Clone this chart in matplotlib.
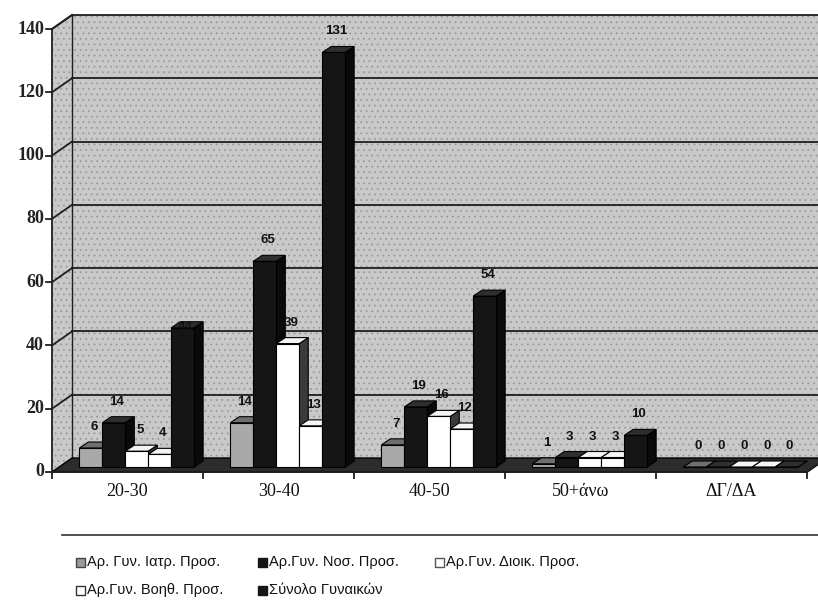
import matplotlib
matplotlib.use("Agg")
import matplotlib.pyplot as plt
from matplotlib.patches import Polygon, Rectangle
from matplotlib.transforms import IdentityTransform
import numpy as np

# ---- data -------------------------------------------------------------
categories = ["20-30", "30-40", "40-50", "50+άνω", "ΔΓ/ΔΑ"]
series_names = ["Αρ. Γυν. Ιατρ. Προσ.", "Αρ.Γυν. Νοσ. Προσ.",
                "Αρ.Γυν. Διοικ. Προσ.", "Αρ.Γυν. Βοηθ. Προσ.",
                "Σύνολο Γυναικών"]
iatr = [6, 14, 7, 1, 0]
nos = [14, 65, 19, 3, 0]
dioik = [5, 39, 16, 3, 0]
voith = [4, 13, 12, 3, 0]
synolo = [44, 131, 54, 10, 0]
y_ticks = [0, 20, 40, 60, 80, 100, 120, 140]

series = [iatr, nos, dioik, voith, synolo]

# ---- styling ----------------------------------------------------------
front_colors = ["#a9a9a9", "#151515", "#ffffff", "#ffffff", "#151515"]
top_colors = ["#6f6f6f", "#2e2e2e", "#f4f4f4", "#f4f4f4", "#2e2e2e"]
side_colors = ["#4e4e4e", "#0a0a0a", "#3a3a3a", "#3a3a3a", "#0a0a0a"]
wall_color = "#c9c9c9"
floor_color = "#2c2c2c"
line_color = "#1e1e1e"

W, H = 818, 608
fig = plt.figure(figsize=(W / 100, H / 100), dpi=100)
fig.patch.set_facecolor("white")
ax = fig.add_axes([59 / W, 141 / H, 755 / W, 443 / H])
ax.set_xlim(0, 5)
ax.set_ylim(0, 140)
ax.axis("off")

# pseudo-3D offsets (pixels) relative to the plane of the bar fronts
FRONT = np.array([-7.0, -5.0])
BACK = np.array([13.0, 9.0])
DEPTH = np.array([9.0, 6.0])


def pt(x, y, off=(0.0, 0.0)):
    return ax.transData.transform((x, y)) + np.asarray(off)


def poly(points, z, **kw):
    p = Polygon(np.array(points), closed=True, transform=IdentityTransform(),
                clip_on=False, zorder=z, **kw)
    ax.add_patch(p)
    return p


def seg(p0, p1, z, **kw):
    a = np.array([p0, p1])
    ax.add_line(plt.Line2D(a[:, 0], a[:, 1], transform=IdentityTransform(),
                           clip_on=False, zorder=z, **kw))


x0, x1 = 0, len(categories)
ymax = y_ticks[-1]

# walls with a speckled fill
plt.rcParams["hatch.linewidth"] = 0.6
back_wall = [pt(x0, 0, BACK), pt(x1, 0, BACK), pt(x1, ymax, BACK), pt(x0, ymax, BACK)]
side_wall = [pt(x0, 0, FRONT), pt(x0, 0, BACK), pt(x0, ymax, BACK), pt(x0, ymax, FRONT)]
for wall in (back_wall, side_wall):
    poly(wall, 1, facecolor=wall_color, edgecolor="none")
    poly(wall, 1.1, facecolor="none", edgecolor="#9a9a9a", hatch="...", linewidth=0)

# gridlines on back and side walls
for v in y_ticks[1:]:
    seg(pt(x0, v, BACK), pt(x1, v, BACK), 2, color=line_color, lw=1.3)
    seg(pt(x0, v, FRONT), pt(x0, v, BACK), 2, color=line_color, lw=1.3)
seg(pt(x0, 0, BACK), pt(x0, ymax, BACK), 2, color=line_color, lw=1.0)

# floor
floor = [pt(x0, 0, FRONT), pt(x1, 0, FRONT), pt(x1, 0, BACK), pt(x0, 0, BACK)]
poly(floor, 2.2, facecolor=floor_color, edgecolor="black", linewidth=1.0)

# bars
bw = 0.152
shift = 0.015
n_series = len(series)
for k, vals in enumerate(series):
    xs = np.arange(len(categories)) + 0.5 + (k - (n_series - 1) / 2) * bw + shift
    bars = ax.bar(xs, vals, width=bw, color=front_colors[k], edgecolor="black",
                  linewidth=0.8)
    for i, rect in enumerate(bars):
        z = 3 + (i * n_series + k) * 0.01
        rect.set_zorder(z + 0.005)
        rect.set_clip_on(False)
        bx, bwid, bh = rect.get_x(), rect.get_width(), rect.get_height()
        top = [pt(bx, bh), pt(bx + bwid, bh), pt(bx + bwid, bh, DEPTH), pt(bx, bh, DEPTH)]
        side = [pt(bx + bwid, 0), pt(bx + bwid, bh), pt(bx + bwid, bh, DEPTH),
                pt(bx + bwid, 0, DEPTH)]
        poly(side, z, facecolor=side_colors[k], edgecolor="black", linewidth=0.8)
        poly(top, z + 0.002, facecolor=top_colors[k], edgecolor="black", linewidth=0.8)

# value labels
label_nudge = {(0, 4): -20}
for k, vals in enumerate(series):
    xs = np.arange(len(categories)) + 0.5 + (k - (n_series - 1) / 2) * bw + shift
    for i, (xc, v) in enumerate(zip(xs, vals)):
        dy = 21 + label_nudge.get((i, k), 0)
        ax.annotate(str(v), xy=(xc, v), xytext=(3, dy), textcoords="offset pixels",
                    ha="center", va="center", fontsize=9.5, fontweight="bold",
                    family="Liberation Sans", color="#111111", zorder=6,
                    annotation_clip=False)

# front axes
seg(pt(x0, 0, FRONT), pt(x0, ymax, FRONT), 5, color=line_color, lw=1.3)
seg(pt(x0, ymax, FRONT), pt(x0, ymax, BACK), 5, color=line_color, lw=1.3)
seg(pt(x0, 0, FRONT), pt(x1, 0, FRONT), 5, color=line_color, lw=1.3)
seg(pt(x1, 0, FRONT), pt(x1, 0, BACK), 5, color=line_color, lw=1.3)
for v in y_ticks:
    p = pt(x0, v, FRONT)
    seg(p, p + np.array([-6, 0]), 5, color=line_color, lw=1.3)
    fig.text(p[0] - 8, p[1], str(v), transform=IdentityTransform(), ha="right",
             va="center", fontsize=13, fontweight="bold", family="Liberation Serif",
             color="#222222")
for i in range(len(categories) + 1):
    p = pt(i, 0, FRONT)
    seg(p, p + np.array([0, -6]), 5, color=line_color, lw=1.3)
for i, c in enumerate(categories):
    p = pt(i + 0.5, 0, FRONT)
    fig.text(p[0], p[1] - 20, c, transform=IdentityTransform(), ha="center",
             va="center", fontsize=13, family="Liberation Serif", color="#111111")

# legend
leg_font = ["Liberation Sans Narrow", "Liberation Sans", "DejaVu Sans"]
fig.add_artist(plt.Line2D([62, 818], [73, 73], transform=IdentityTransform(),
                          color="#333333", lw=1.2))
leg_cols = [76, 258, 435]
leg_rows = [46, 18]
leg_face = ["#9a9a9a", "#151515", "#ffffff", "#ffffff", "#151515"]
leg_edge = ["#444444", "#151515", "#555555", "#333333", "#151515"]
for k, name in enumerate(series_names):
    r, c = divmod(k, 3)
    x, y = leg_cols[c], leg_rows[r]
    fig.add_artist(Rectangle((x, y - 4.5), 9, 9, transform=IdentityTransform(),
                             facecolor=leg_face[k], edgecolor=leg_edge[k], lw=1.0))
    fig.text(x + 11, y, name, transform=IdentityTransform(), ha="left", va="center",
             fontsize=10.5, family=leg_font, color="#111111")

fig.savefig("out.png", dpi=100)
